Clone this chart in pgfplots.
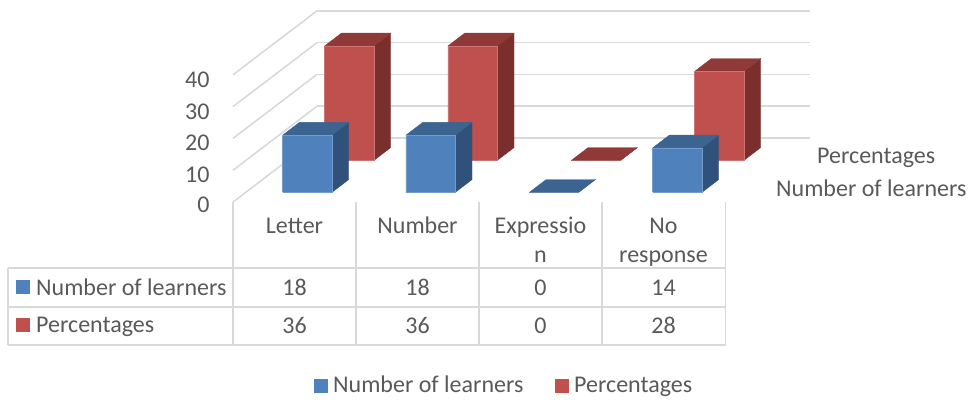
\documentclass[border=0pt]{standalone}
\usepackage{pgfplots}
\pgfplotsset{compat=1.18}
\usepackage{fontspec}
\setmainfont{Carlito}
\definecolor{txt}{HTML}{595959}
\definecolor{gridc}{HTML}{D9D9D9}
\definecolor{bluef}{HTML}{4F81BD}
\definecolor{bluet}{HTML}{3C6491}
\definecolor{blues}{HTML}{30527A}
\definecolor{redf}{HTML}{C0504D}
\definecolor{redt}{HTML}{8F3A38}
\definecolor{reds}{HTML}{7A2F2D}
% One 3D column: x from #1 to #2, depth from #3 to #4, height #5; colours #6 #7 #8
\newcommand{\column}[8]{%
  \addplot3[fill=#8,draw=#8,line width=0.3pt,mark=none,forget plot] coordinates {(#2,#3,0)(#2,#4,0)(#2,#4,#5)(#2,#3,#5)(#2,#3,0)};
  \addplot3[fill=#7,draw=#7,line width=0.3pt,mark=none,forget plot] coordinates {(#1,#3,#5)(#2,#3,#5)(#2,#4,#5)(#1,#4,#5)(#1,#3,#5)};
  \addplot3[fill=#6,draw=#6!80!white,line width=0.5pt,mark=none,forget plot] coordinates {(#1,#3,0)(#2,#3,0)(#2,#3,#5)(#1,#3,#5)(#1,#3,0)};
}
\begin{document}
\begin{tikzpicture}[x=1pt,y=1pt,font=\fontsize{24}{28}\selectfont,text=txt]
\path[use as bounding box] (0,0) rectangle (968,399);
\begin{axis}[
  at={(233pt,197pt)},anchor=origin,
  x={(123.33pt,0pt)},y={(84pt,64pt)},z={(0pt,3.18pt)},
  xmin=0,xmax=4,ymin=0,ymax=1,zmin=0,zmax=40,
  xtick=\empty,ytick=\empty,ztick={0,10,20,30,40},
  axis line style={draw=none},tick style={draw=none},
  grid=major,major grid style={gridc,line width=1.6pt},
  /pgf/number format/assume math mode=true,
  z tick label style={font=\fontsize{24}{28}\selectfont,text=txt,xshift=-20pt,yshift=0.5pt},
  clip=false,
]
% Percentages, rear row
\column{0.3}{0.7}{0.65}{0.85}{36}{redf}{redt}{reds}
\column{1.3}{1.7}{0.65}{0.85}{36}{redf}{redt}{reds}
\column{2.3}{2.7}{0.65}{0.85}{0}{redt}{redt}{redt}
\column{3.3}{3.7}{0.65}{0.85}{28}{redf}{redt}{reds}
% Number of learners, front row
\column{0.3}{0.7}{0.15}{0.35}{18}{bluef}{bluet}{blues}
\column{1.3}{1.7}{0.15}{0.35}{18}{bluef}{bluet}{blues}
\column{2.3}{2.7}{0.15}{0.35}{0}{bluet}{bluet}{bluet}
\column{3.3}{3.7}{0.15}{0.35}{14}{bluef}{bluet}{blues}
\end{axis}
% Data table under the plot, in page coordinates measured from the top
\begin{scope}[y=-1pt,shift={(0,399pt)}]
\draw[gridc,line width=1.6pt] (8,268.3)--(725.5,268.3) (8,306.7)--(725.5,306.7) (8,345)--(725.5,345) (8,268.3)--(8,345);
\foreach \xx in {233,356,479,602,725.5} \draw[gridc,line width=1.6pt] (\xx,202)--(\xx,345);
\foreach \xx/\t in {294.5/Letter,417.5/Number,540.5/Expressio,663.5/No} \node[anchor=base,inner sep=0] at (\xx,233.5) {\t};
\node[anchor=base,inner sep=0] at (540.5,262.7) {n};
\node[anchor=base,inner sep=0] at (663.5,262.7) {response};
\foreach \xx/\a/\b in {294.5/18/36,417.5/18/36,540.5/0/0,663.5/14/28}{
  \node[anchor=base,inner sep=0] at (\xx,295.8) {\a};
  \node[anchor=base,inner sep=0] at (\xx,333.2) {\b};
}
\fill[bluef] (16,280) rectangle (30,294);
\fill[redf] (16,318) rectangle (30,332);
\node[anchor=base west,inner sep=0] at (36,295) {Number of learners};
\node[anchor=base west,inner sep=0] at (36,332.5) {Percentages};
% Series names along the depth axis
\node[anchor=base west,inner sep=0] at (817,164) {Percentages};
\node[anchor=base west,inner sep=0] at (776,196.5) {Number of learners};
% Legend
\fill[bluef] (314,379) rectangle (328,393);
\fill[redf] (555,379) rectangle (569,393);
\node[anchor=base west,inner sep=0] at (333,392) {Number of learners};
\node[anchor=base west,inner sep=0] at (574,392) {Percentages};
\end{scope}
\end{tikzpicture}
\end{document}
